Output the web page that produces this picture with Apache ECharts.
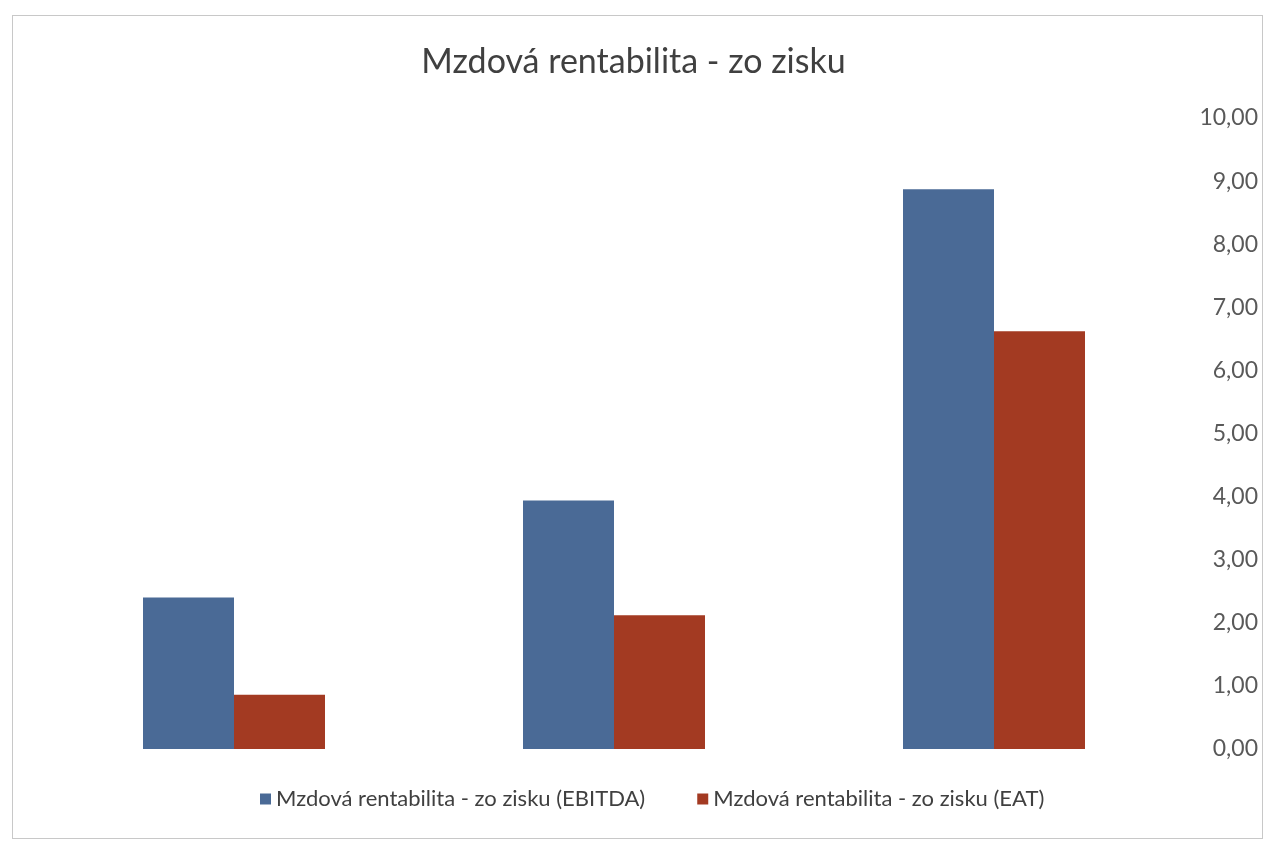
<!DOCTYPE html>
<html>
<head>
<meta charset="utf-8">
<script src="https://cdn.jsdelivr.net/npm/echarts@6/dist/echarts.min.js"></script>
<style>
  html, body { margin: 0; padding: 0; background: #fff; }
  #frame { position: absolute; left: 12px; top: 15px; width: 1249px; height: 822px; border: 1px solid #c8c8c8; }
  #chart { position: absolute; left: 0; top: 0; width: 1267px; height: 841px; }
</style>
</head>
<body>
<div id="frame"></div>
<div id="chart"></div>
<script>
// data
var categories = ['1', '2', '3'];
var ebitda = [2.40, 3.94, 8.87];
var eat = [0.86, 2.12, 6.62];
var seriesNames = ['Mzdová rentabilita - zo zisku (EBITDA)', 'Mzdová rentabilita - zo zisku (EAT)'];

var font = 'Lato, "Open Sans", sans-serif';

var chart = echarts.init(document.getElementById('chart'));
chart.setOption({
    backgroundColor: 'transparent',
    title: {
        text: 'Mzdová rentabilita - zo zisku',
        left: 'center',
        top: 40,
        textStyle: { fontFamily: font, fontSize: 34, fontWeight: 'normal', color: '#404040' }
    },
    legend: {
        bottom: 26,
        left: 255,
        itemWidth: 11,
        itemHeight: 11,
        itemGap: 52,
        icon: 'rect',
        textStyle: { fontFamily: font, fontSize: 22, color: '#404040' },
        data: seriesNames
    },
    grid: { left: 44, right: 83, top: 118, bottom: 92 },
    xAxis: {
        type: 'category',
        data: categories,
        axisLine: { show: false },
        axisTick: { show: false },
        axisLabel: { show: false }
    },
    yAxis: {
        type: 'value',
        position: 'right',
        min: 0,
        max: 10,
        interval: 1,
        splitLine: { show: false },
        axisLine: { show: false },
        axisTick: { show: false },
        axisLabel: {
            align: 'right',
            margin: 74,
            fontFamily: font,
            fontSize: 23,
            color: '#595959',
            formatter: function (v) { return v.toFixed(2).replace('.', ','); }
        }
    },
    series: [{
            name: seriesNames[0],
            type: 'bar',
            barWidth: 91,
            barGap: '0%',
            itemStyle: { color: '#4A6A96' },
            data: ebitda
        },
        {
            name: seriesNames[1],
            type: 'bar',
            barWidth: 91,
            itemStyle: { color: '#A33A22' },
            data: eat
        }
    ]
});
</script>
</body>
</html>
